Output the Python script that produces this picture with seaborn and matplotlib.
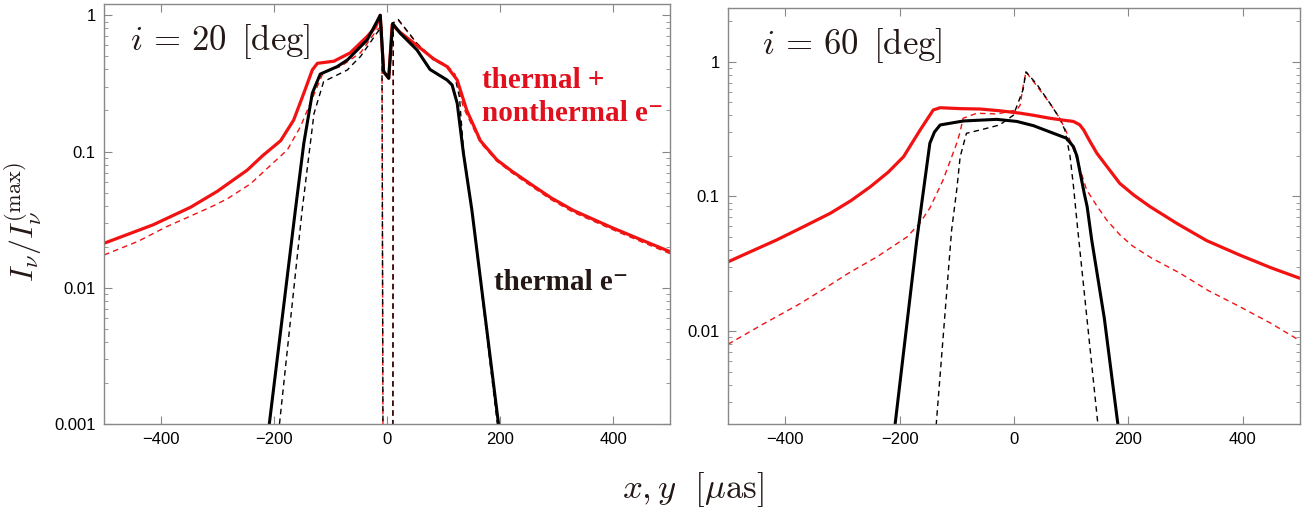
import numpy as np
import pandas as pd
import matplotlib
matplotlib.use("Agg")
import matplotlib.pyplot as plt
import matplotlib.ticker as mticker
import seaborn as sns

# -----------------------------
# DATA
# -----------------------------
# i = 20 deg, thermal + nonthermal (red), solid
x20_tot = [-500, -413, -347, -300, -247, -220, -188, -165, -147, -132, -123, -94, -65, -35, -20, -12,
           -6, 3, 9, 23, 53, 82, 106, 124, 141, 165, 194, 220, 253, 290, 329, 396, 450, 500]
y20_tot = [0.0212, 0.029, 0.039, 0.051, 0.073, 0.093, 0.12, 0.17, 0.268, 0.397, 0.444, 0.46, 0.53, 0.70,
           0.82, 1.0, 0.386, 0.345, 0.85, 0.75, 0.60, 0.48, 0.42, 0.335, 0.20, 0.12, 0.087, 0.072, 0.058,
           0.0457, 0.037, 0.0278, 0.0224, 0.0184]
# i = 20 deg, thermal + nonthermal (red), dashed
x20_tot_d = [-500, -440, -390, -312, -282, -241, -176, -153, -138, -112, -82, -47, -18, -9, -6,
             10, 11, 20, 53, 82, 106, 120, 135, 165, 194, 220, 253, 290, 329, 396, 450, 500]
y20_tot_d = [0.0174, 0.0219, 0.028, 0.039, 0.045, 0.058, 0.103, 0.152, 0.214, 0.386, 0.42, 0.53, 0.78,
             0.83, 1e-5, 1e-5, 0.88, 0.92, 0.62, 0.48, 0.43, 0.37, 0.21, 0.116, 0.085, 0.070, 0.0563,
             0.0443, 0.0358, 0.027, 0.0217, 0.0178]
# i = 20 deg, thermal (black), solid
x20_th = [-208, -162, -147, -132, -118, -88, -70, -35, -12, -6, 3, 10, 23, 53, 76, 106, 115, 124, 135, 150, 197]
y20_th = [0.001, 0.037, 0.115, 0.268, 0.37, 0.42, 0.47, 0.66, 1.0, 0.386, 0.345, 0.87, 0.74, 0.556, 0.40,
          0.335, 0.308, 0.226, 0.097, 0.037, 0.001]
# i = 20 deg, thermal (black), dashed
x20_th_d = [-190, -150, -129, -112, -82, -70, -59, -47, -18, -9, -6, 10, 11, 20, 53, 82, 106, 120, 128, 135, 150, 195]
y20_th_d = [0.001, 0.037, 0.19, 0.326, 0.375, 0.397, 0.444, 0.497, 0.74, 0.825, 1e-5, 1e-5, 0.88, 0.93,
            0.62, 0.47, 0.42, 0.355, 0.25, 0.103, 0.037, 0.001]

# i = 60 deg, thermal + nonthermal (red), solid
x60_tot = [-500, -460, -415, -370, -321, -285, -251, -220, -193, -164, -141, -129, -94, -59, -25, 10, 34,
           63, 86, 104, 115, 122, 132, 145, 185, 210, 238, 285, 337, 395, 450, 500]
y60_tot = [0.0327, 0.039, 0.0475, 0.059, 0.075, 0.093, 0.118, 0.151, 0.197, 0.311, 0.438, 0.455, 0.448,
           0.445, 0.432, 0.415, 0.40, 0.38, 0.368, 0.36, 0.34, 0.311, 0.26, 0.209, 0.125, 0.102, 0.084,
           0.063, 0.047, 0.0367, 0.0295, 0.0247]
# i = 60 deg, thermal + nonthermal (red), dashed
x60_tot_d = [-500, -440, -373, -330, -289, -240, -187, -165, -147, -124, -100, -94, -89, -65, -30, 5, 11,
             15, 21, 40, 63, 80, 89, 100, 110, 127, 145, 162, 185, 207, 240, 290, 340, 395, 450, 500]
y60_tot_d = [0.008, 0.0112, 0.0161, 0.0209, 0.027, 0.0355, 0.050, 0.063, 0.082, 0.132, 0.248, 0.302,
             0.38, 0.414, 0.409, 0.438, 0.477, 0.62, 0.84, 0.66, 0.49, 0.38, 0.32, 0.25, 0.19, 0.112,
             0.085, 0.067, 0.052, 0.043, 0.035, 0.027, 0.020, 0.0152, 0.0114, 0.0085]
# i = 60 deg, thermal (black), solid
x60_th = [-208, -170, -158, -147, -139, -129, -88, -30, 5, 34, 92, 104, 110, 116, 123, 128, 136, 158, 182]
y60_th = [0.002, 0.047, 0.112, 0.248, 0.30, 0.339, 0.363, 0.373, 0.36, 0.335, 0.27, 0.234, 0.2, 0.148,
          0.105, 0.084, 0.0475, 0.0125, 0.002]
# i = 60 deg, thermal (black), dashed
x60_th_d = [-136, -109, -100, -94, -83, -54, -25, -1, 16, 21, 40, 63, 80, 89, 98, 104, 111, 147]
y60_th_d = [0.002, 0.056, 0.112, 0.197, 0.294, 0.315, 0.339, 0.40, 0.62, 0.84, 0.68, 0.49, 0.38, 0.311,
            0.2, 0.12, 0.06, 0.002]

ytick_20 = [0.001, 0.01, 0.1, 1]
ytick_60 = [0.01, 0.1, 1]
xticks = [-400, -200, 0, 200, 400]

# -----------------------------
# STYLE
# -----------------------------
sns.set_theme(style="ticks")
plt.rcParams["font.family"] = ["Liberation Sans", "DejaVu Sans"]
plt.rcParams["mathtext.fontset"] = "cm"

RED = "#f21212"
RED_TXT = "#e0101e"
INK = "#231815"

fig = plt.figure(figsize=(13.02, 5.12), dpi=100)
ax1 = fig.add_axes([0.0799, 0.1719, 0.4347, 0.8203])
ax2 = fig.add_axes([0.5591, 0.1719, 0.4393, 0.8125])


def curve(ax, x, y, color, lw, dashed=False):
    df = pd.DataFrame({"x": x, "y": y})
    sns.lineplot(data=df, x="x", y="y", ax=ax, color=color, lw=lw,
                 estimator=None, sort=False)
    if dashed:
        ax.lines[-1].set_dashes([4, 3])


for ax, data in [(ax1, (x20_tot, y20_tot, x20_tot_d, y20_tot_d, x20_th, y20_th, x20_th_d, y20_th_d)),
                 (ax2, (x60_tot, y60_tot, x60_tot_d, y60_tot_d, x60_th, y60_th, x60_th_d, y60_th_d))]:
    xt, yt, xtd, ytd, xh, yh, xhd, yhd = data
    curve(ax, xtd, ytd, RED, 1.0, dashed=True)
    curve(ax, xhd, yhd, "black", 1.0, dashed=True)
    curve(ax, xt, yt, RED, 2.3)
    curve(ax, xh, yh, "black", 2.2)
    ax.set_yscale("log")
    ax.set_xlim(-500, 500)
    ax.set_xticks(xticks)
    ax.set_xticklabels(["\u2212400", "\u2212200", "0", "200", "400"])
    ax.yaxis.set_minor_locator(mticker.LogLocator(base=10, subs=np.arange(2, 10)))
    ax.tick_params(which="both", direction="in", top=True, right=True,
                   color="#888888", labelcolor="black", labelsize=12, pad=6)
    ax.tick_params(which="major", length=6, width=0.8)
    ax.tick_params(which="minor", length=3, width=0.6)
    for s in ax.spines.values():
        s.set_color("#888888")
        s.set_linewidth(1.0)
    ax.set_xlabel("")
    ax.set_ylabel("")

ax1.set_ylim(0.001, 1.21)
ax1.set_yticks(ytick_20)
ax1.set_yticklabels(["0.001", "0.01", "0.1", "1"])
ax2.set_ylim(0.00205, 2.5)
ax2.set_yticks(ytick_60)
ax2.set_yticklabels(["0.01", "0.1", "1"])
for ax in (ax1, ax2):
    ax.yaxis.set_minor_formatter(mticker.NullFormatter())

ax1.text(0.046, 0.91, r"$i\, =\, 20\ \,[{\rm deg}]$", transform=ax1.transAxes,
         fontsize=25, color=INK, ha="left", va="center")
ax2.text(0.059, 0.911, r"$i\, =\, 60\ \,[{\rm deg}]$", transform=ax2.transAxes,
         fontsize=25, color=INK, ha="left", va="center")

serif = ["Liberation Serif", "DejaVu Serif"]
ax1.text(0.668, 0.80, "thermal +", transform=ax1.transAxes, fontsize=21,
         fontweight="bold", family=serif, color=RED_TXT, ha="left", va="baseline")
ax1.text(0.668, 0.721, "nonthermal e\u207b", transform=ax1.transAxes, fontsize=21,
         fontweight="bold", family=serif, color=RED_TXT, ha="left", va="baseline")
ax1.text(0.689, 0.319, "thermal e\u207b", transform=ax1.transAxes, fontsize=21,
         fontweight="bold", family=serif, color=INK, ha="left", va="baseline")

fig.text(0.018, 0.565, r"$I_\nu / I_\nu^{(\max)}$", rotation=90,
         fontsize=23, color=INK, ha="center", va="center")
fig.text(0.532, 0.043, r"$x, y\ \ [\mu{\rm as}]$", fontsize=25, color=INK,
         ha="center", va="center")

fig.savefig("out.png", dpi=100, facecolor="white")
